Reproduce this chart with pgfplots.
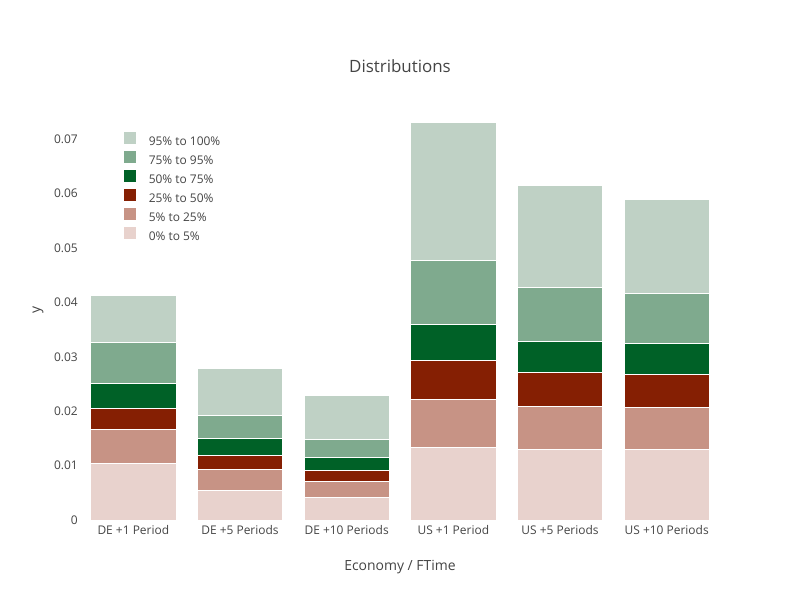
\documentclass[border=0pt]{standalone}
\usepackage{pgfplots}
\pgfplotsset{compat=1.18}
\usepackage{fontspec}
\setmainfont{Open Sans}
\definecolor{txt}{HTML}{444444}
\definecolor{pA}{HTML}{E8D2CD}
\definecolor{pB}{HTML}{C79385}
\definecolor{pC}{HTML}{851F03}
\definecolor{pD}{HTML}{006127}
\definecolor{pE}{HTML}{7FAA8E}
\definecolor{pF}{HTML}{BFD1C5}
\begin{document}
\begin{tikzpicture}[x=1bp,y=1bp]
\useasboundingbox (0,0) rectangle (800,600);
\begin{axis}[
    at={(80bp,80bp)}, anchor=south west,
    scale only axis,
    width=640bp, height=420bp,
    ybar stacked,
    bar width=0.8,
    xmin=-0.5, xmax=5.5,
    ymin=0, ymax=0.0772,
    axis line style={draw=none},
    major tick length=0pt,
    xtick={0,1,2,3,4,5},
    xticklabels={DE +1 Period, DE +5 Periods, DE +10 Periods, US +1 Period, US +5 Periods, US +10 Periods},
    ytick={0,0.01,0.02,0.03,0.04,0.05,0.06,0.07},
    scaled y ticks=false,
    yticklabel style={/pgf/number format/fixed, /pgf/number format/precision=2,
        /pgf/number format/assume math mode=true, inner sep=0pt, xshift=-2bp},
    xticklabel style={inner sep=0pt, yshift=-5bp},
    tick label style={font=\fontsize{12}{14}\selectfont, text=txt},
    reverse legend,
    legend cell align=left,
    legend style={draw=none, fill=none, at={(0.063,0.928)}, anchor=north west,
        font=\fontsize{12}{14}\selectfont, text=txt, row sep=2bp,
        nodes={text height=9bp, text depth=3bp, inner sep=1bp}},
    legend image code/.code={\fill[#1, draw=none] (0bp,-2bp) rectangle (12bp,10bp); \path (12bp,0) -- (24bp,0);},
]
\addplot[fill=pA, draw=white, line width=0.6pt] coordinates {(0,0.01042) (1,0.00546) (2,0.00417) (3,0.01336) (4,0.01299) (5,0.01299)};
\addplot[fill=pB, draw=white, line width=0.6pt] coordinates {(0,0.00624) (1,0.00385) (2,0.00294) (3,0.00882) (4,0.00790) (5,0.00772)};
\addplot[fill=pC, draw=white, line width=0.6pt] coordinates {(0,0.00386) (1,0.00258) (2,0.00202) (3,0.00716) (4,0.00625) (5,0.00606)};
\addplot[fill=pD, draw=white, line width=0.6pt] coordinates {(0,0.00459) (1,0.00312) (2,0.00239) (3,0.00662) (4,0.00569) (5,0.00569)};
\addplot[fill=pE, draw=white, line width=0.6pt] coordinates {(0,0.00754) (1,0.00423) (2,0.00331) (3,0.01175) (4,0.00992) (5,0.00919)};
\addplot[fill=pF, draw=white, line width=0.6pt] coordinates {(0,0.00869) (1,0.00869) (2,0.00801) (3,0.02541) (4,0.01880) (5,0.01733)};
\legend{0\% to 5\%, 5\% to 25\%, 25\% to 50\%, 50\% to 75\%, 75\% to 95\%, 95\% to 100\%}
\end{axis}
\node[text=txt, font=\fontsize{17}{20}\selectfont] at (400,534) {Distributions};
\node[text=txt, font=\fontsize{14}{17}\selectfont] at (400,33) {Economy / FTime};
\node[text=txt, font=\fontsize{14}{17}\selectfont, rotate=90] at (38,290) {y};
\end{tikzpicture}
\end{document}
